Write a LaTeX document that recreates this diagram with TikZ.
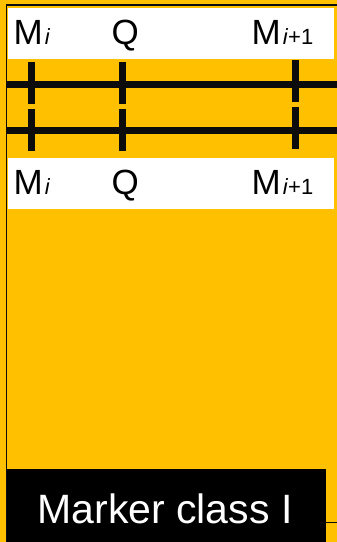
\documentclass[tikz,border=0pt]{standalone}
\usepackage{fontspec}
\usepackage{tikz}
\usetikzlibrary{positioning}
\setmainfont{Liberation Sans}
\definecolor{markerorange}{RGB}{255, 192, 0}
\definecolor{markerdark}{RGB}{12, 12, 12}
\newcommand{\labelfont}{\fontsize{35}{35}\selectfont}
\newcommand{\subfont}{\kern2pt\fontsize{22}{22}\selectfont}
\newcommand{\titlefont}{\fontsize{41}{41}\selectfont}

\begin{document}
\begin{tikzpicture}[x=1pt, y=1pt,
    bar/.style={markerdark, line width=7pt},
    lbl/.style={anchor=base west, inner sep=0pt, font=\labelfont}]
    \useasboundingbox (0,0) rectangle (337,542);
    \fill[markerorange] (0,0) rectangle (337,542);
    % frame lines
    \draw[markerdark, line width=1.5pt] (6,537) -- (337,537);
    \draw[markerdark, line width=1.2pt] (6.5,537.7) -- (6.5,0);
    % label strips
    \fill[white] (7.5,534) rectangle (334,483);
    \fill[white] (7.5,384) rectangle (334,333);
    % chromosome lines
    \coordinate (top l) at (6,457.5);
    \coordinate (top r) at (337,457.5);
    \coordinate (bot l) at (6,411);
    \coordinate (bot r) at (337,411);
    \draw[bar] (top l) -- (top r);
    \draw[bar] (bot l) -- (bot r);
    % marker ticks
    \foreach \x/\d in {31.5/0, 122.5/0, 295/2} {
        \draw[bar] (\x,480+\d) -- (\x,438+\d);
        \draw[bar] (\x,433+\d) -- (\x,391+\d);
    }
    % labels
    \node[lbl] (mi top) at (13.5,497) {M{\subfont\textit{i}}};
    \node[lbl] (q top) at (111.5,497) {Q};
    \node[lbl] (mj top) at (251.5,497) {M{\subfont\textit{i}+1}};
    \node[lbl] (mi bot) at (13.5,347) {M{\subfont\textit{i}}};
    \node[lbl] (q bot) at (111.5,347) {Q};
    \node[lbl] (mj bot) at (251.5,347) {M{\subfont\textit{i}+1}};
    % class box
    \fill[black] (7,0) rectangle (326,73);
    \draw[markerdark, line width=1pt] (326,19.3) -- (337,19.3);
    \node[anchor=base, inner sep=0pt, text=white, font=\titlefont] (cls) at (165,19) {Marker class I};
\end{tikzpicture}
\end{document}
